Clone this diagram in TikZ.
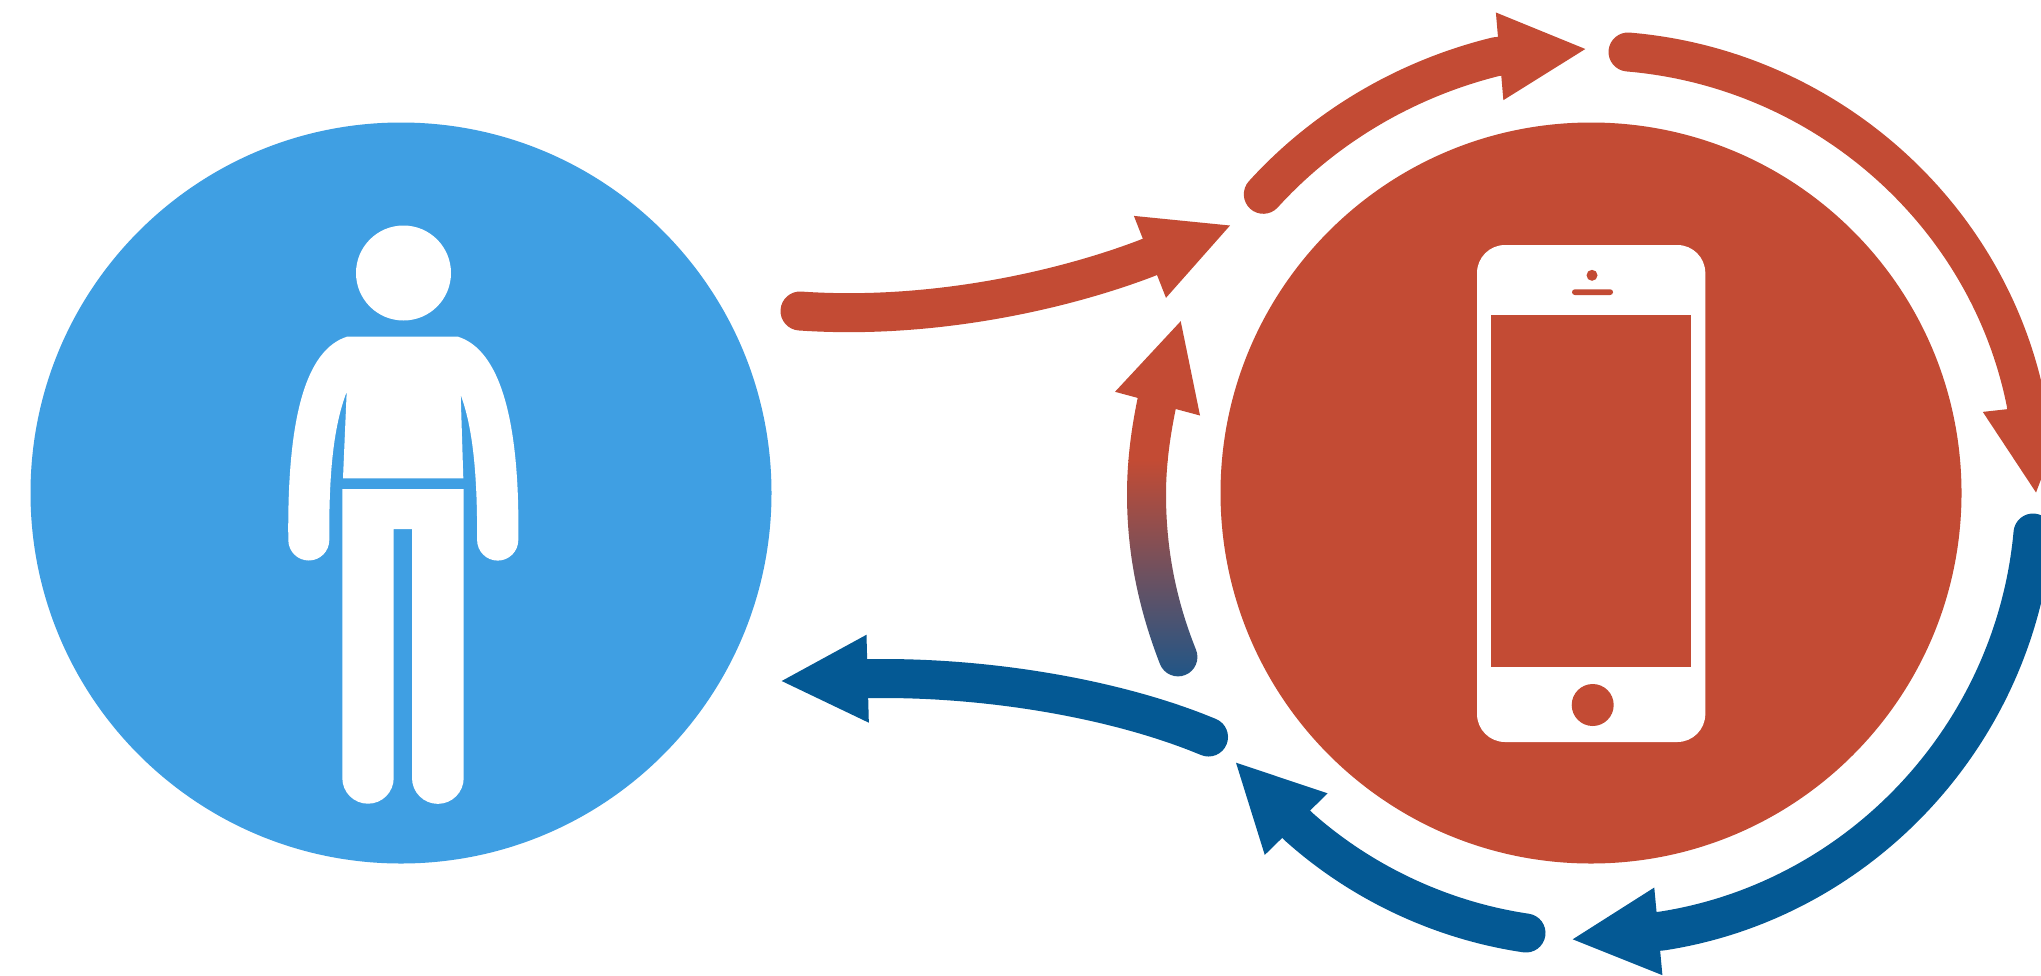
\documentclass[tikz,border=0pt]{standalone}
\usetikzlibrary{arrows.meta}
\definecolor{phonered}{HTML}{C34B34}
\definecolor{personblue}{HTML}{3F9FE3}
\definecolor{flowblue}{HTML}{045994}
\definecolor{fadeblue}{HTML}{1E5688}
\tikzset{
  disc/.style={circle,inner sep=0pt,outer sep=0pt,minimum size=741pt},
  shaft/.style={line width=39pt,line cap=round,line join=round},
  redflow/.style={shaft,draw=phonered,-{Triangle[length=86pt,width=88pt,line width=0pt]}},
  blueflow/.style={shaft,draw=flowblue,-{Triangle[length=86pt,width=88pt,line width=0pt]}},
  figure/.style={fill=white},
  screenpart/.style={fill=phonered}
}
\begin{document}
\begin{tikzpicture}[x=1pt,y=1pt,yscale=-1]
\clip (0,0) rectangle (2041,975);
\fill[white] (0,0) rectangle (2041,975);
% discs
\node[disc,fill=personblue] (person) at (401,493) {};
\node[disc,fill=phonered] (phone) at (1591,493) {};
% person figure
\fill[figure] (403.5,273) circle (47.5);
\fill[figure] (347,336.7) -- (458,336.7)
  .. controls (500,350) and (520,420) .. (518.3,540)
  arc (0:180:20.6)
  .. controls (477.5,470) and (472,425) .. (460.7,395)
  -- (463.3,478.3) -- (343,478.3) -- (346.7,391.7)
  .. controls (334,425) and (328.8,470) .. (329.3,540)
  arc (0:180:20.5)
  .. controls (287,420) and (305,350) .. (347,336.7) -- cycle;
\fill[figure] (342.3,489) -- (463.7,489) -- (463.7,778)
  arc (0:180:25.85) -- (412,529) -- (393.7,529) -- (393.7,778)
  arc (0:180:25.7) -- cycle;
% phone figure
\fill[figure,rounded corners=28pt] (1477,245) rectangle (1705.3,742);
\fill[screenpart] (1491.3,315.3) rectangle (1691,667.3);
\fill[screenpart] (1592,275.3) circle (5.5);
\fill[screenpart,rounded corners=2.8pt] (1572,289.3) rectangle (1613,295);
\fill[screenpart] (1592.7,705) circle (21);
% connector ends
\coordinate (aS) at (800,311);
\coordinate (aN) at (1145,258.8);
\coordinate (aT) at (1230,225.5);
\coordinate (bS) at (1263.3,194.3);
\coordinate (bN) at (1496.3,56.6);
\coordinate (bT) at (1585.3,49);
\coordinate (cS) at (1628,52);
\coordinate (cN) at (2026.1,403.4);
\coordinate (cT) at (2036,492.5);
\coordinate (fS) at (2033,533);
\coordinate (fN) at (1662,931);
\coordinate (fT) at (1572.7,939.3);
\coordinate (gS) at (1526,933);
\coordinate (gN) at (1299,827);
\coordinate (gT) at (1236,762.7);
\coordinate (eS) at (1208.5,737);
\coordinate (eN) at (872,678.6);
\coordinate (eT) at (781.7,681);
% connectors
\draw[redflow] (aS) .. controls (930,320) and (1060,291) .. (aN) -- (aT);
\draw[redflow] (bS) .. controls (1326.3,125) and (1408.9,78) .. (bN) -- (bT);
\draw[redflow] (cS) .. controls (1825,68.5) and (1988.5,213.5) .. (cN) -- (cT);
\draw[blueflow] (fS) .. controls (2014.6,735.8) and (1859.3,900.6) .. (fN) -- (fT);
\draw[blueflow] (gS) .. controls (1440.4,920.4) and (1360.6,882) .. (gN) -- (gT);
\draw[blueflow] (eS) .. controls (1115,698) and (985,677) .. (eN) -- (eT);
% gradient connector
\begin{scope}
\clip (1180.7,321.2) -- (1200,415.5) -- (1175.7,409)
  .. controls (1170,437) and (1166,465) .. (1166,494.3)
  .. controls (1166,549) and (1176,600) .. (1196,649.7)
  arc (-22:158:19.4)
  .. controls (1139,610) and (1127,555) .. (1127,494.3)
  .. controls (1127,462) and (1131,430) .. (1137.7,397.9)
  -- (1115,391.8) -- cycle;
\fill[phonered] (1100,300) rectangle (1220,461);
\shade[top color=phonered,bottom color=fadeblue] (1100,460) rectangle (1220,680);
\end{scope}
\end{tikzpicture}
\end{document}
